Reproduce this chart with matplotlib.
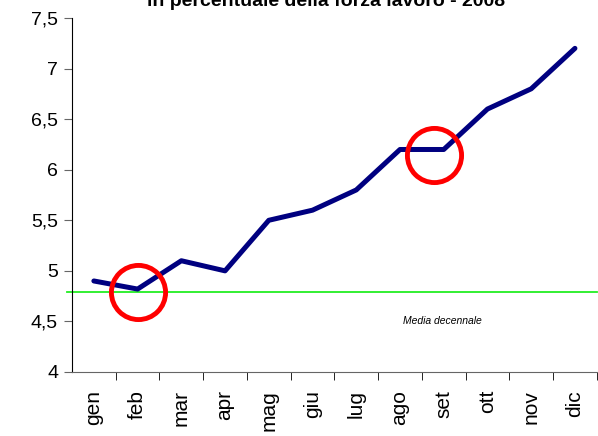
import matplotlib
matplotlib.use('Agg')
import matplotlib.pyplot as plt

plt.rcParams['font.family'] = ['Liberation Sans', 'DejaVu Sans']

# months and unemployment rate (%)
mesi = ['gen', 'feb', 'mar', 'apr', 'mag', 'giu', 'lug', 'ago', 'set', 'ott', 'nov', 'dic']
tasso = [4.9, 4.82, 5.1, 5.0, 5.5, 5.6, 5.8, 6.2, 6.2, 6.6, 6.8, 7.2]
media_decennale = 4.79
# highlighted points (circles)
cerchi_x = [1, 7.77]
cerchi_y = [4.79, 6.145]
yticks = [4, 4.5, 5, 5.5, 6, 6.5, 7, 7.5]
ytick_labels = ['4', '4,5', '5', '5,5', '6', '6,5', '7', '7,5']

fig = plt.figure(figsize=(5.98, 4.36), dpi=100)
ax = fig.add_axes([0.1204, 0.1468, 0.8776, 0.8119])

x = list(range(len(mesi)))
ax.axhline(media_decennale, color='#22ee22', lw=1.3, xmin=-0.01, clip_on=False, zorder=2)
ax.plot(x, tasso, color='#000080', lw=3.6, solid_capstyle='round', zorder=3)
ax.plot(cerchi_x, cerchi_y, 'o', ms=39, mfc='none', mec='#ff0000', mew=3.5, zorder=4)
ax.text(7.96, 4.5, 'Media decennale', fontsize=7.5, style='italic', ha='center', va='center')

ax.set_xlim(-0.5, 11.5)
ax.set_ylim(4, 7.5)
ax.set_yticks(yticks)
ax.set_yticklabels(ytick_labels, fontsize=14)
ax.set_xticks(x)
ax.set_xticklabels(mesi, rotation=90, fontsize=15)
ax.set_xticks([i + 0.5 for i in x], minor=True)
ax.tick_params(axis='x', which='major', length=0, pad=13)
ax.tick_params(axis='x', which='minor', length=6, color='black')
ax.tick_params(axis='y', length=6, color='#666666', pad=4)

ax.spines['top'].set_visible(False)
ax.spines['right'].set_visible(False)
ax.spines['bottom'].set_color('#666666')

fig.text(0.545, 0.978, 'Tasso di disoccupazione\nin percentuale della forza lavoro - 2008',
         ha='center', va='bottom', fontsize=14, fontweight='bold', linespacing=1.2)

fig.savefig('out.png', dpi=100)
